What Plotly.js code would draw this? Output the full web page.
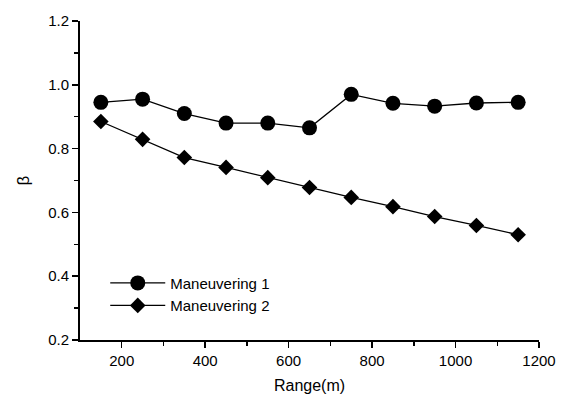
<!DOCTYPE html>
<html><head><meta charset="utf-8">
<script src="https://cdn.plot.ly/plotly-3.0.1.min.js"></script>
<style>html,body{margin:0;padding:0;background:#fff}#c{width:562px;height:400px}</style>
</head><body><div id="c"></div>
<script>
const rangeM = [150,250,350,450,550,650,750,850,950,1050,1150];
const man1 = [0.945,0.955,0.91,0.88,0.88,0.865,0.97,0.942,0.933,0.943,0.945];
const man2 = [0.885,0.829,0.772,0.741,0.709,0.678,0.647,0.618,0.587,0.559,0.530];
const names = ["Maneuvering 1","Maneuvering 2"];

const traces = [
  {x: rangeM, y: man1, name: names[0], mode: "lines+markers", type: "scatter",
   line: {color: "#000", width: 1.3}, marker: {symbol: "circle", size: 15, color: "#000"}},
  {x: rangeM, y: man2, name: names[1], mode: "lines+markers", type: "scatter",
   line: {color: "#000", width: 1.3}, marker: {symbol: "diamond", size: 12, color: "#000"}}
];
const layout = {
  width: 562, height: 400,
  margin: {l: 80, r: 23, t: 21, b: 60},
  paper_bgcolor: "#fff", plot_bgcolor: "#fff",
  font: {family: "Liberation Sans, Arial, sans-serif", color: "#000", size: 15},
  showlegend: true,
  legend: {x: 0.055, y: 0.23, xanchor: "left", yanchor: "top", bgcolor: "rgba(0,0,0,0)",
           font: {size: 15}, tracegroupgap: 0, itemwidth: 55},
  xaxis: {range: [100, 1200], tickvals: [200,400,600,800,1000,1200], showgrid: false, zeroline: false,
          showline: true, linecolor: "#000", linewidth: 2, ticks: "outside", ticklen: 6, tickwidth: 1.5, tickcolor: "#000",
          minor: {tickvals: [300,500,700,900,1100], ticks: "outside", ticklen: 4, tickwidth: 1.5, tickcolor: "#000"},
          title: {text: "Range(m)", font: {size: 16}, standoff: 12}},
  yaxis: {range: [0.2, 1.2], tickvals: [0.2,0.4,0.6,0.8,1.0,1.2], tickformat: ".1f", showgrid: false, zeroline: false,
          showline: true, linecolor: "#000", linewidth: 2, ticks: "outside", ticklen: 6, tickwidth: 1.5, tickcolor: "#000",
          minor: {tickvals: [0.3,0.5,0.7,0.9,1.1], ticks: "outside", ticklen: 4, tickwidth: 1.5, tickcolor: "#000"},
          title: {text: "β", font: {size: 17}, standoff: 14}}
};
Plotly.newPlot("c", traces, layout, {displayModeBar: false, staticPlot: true});
</script></body></html>
